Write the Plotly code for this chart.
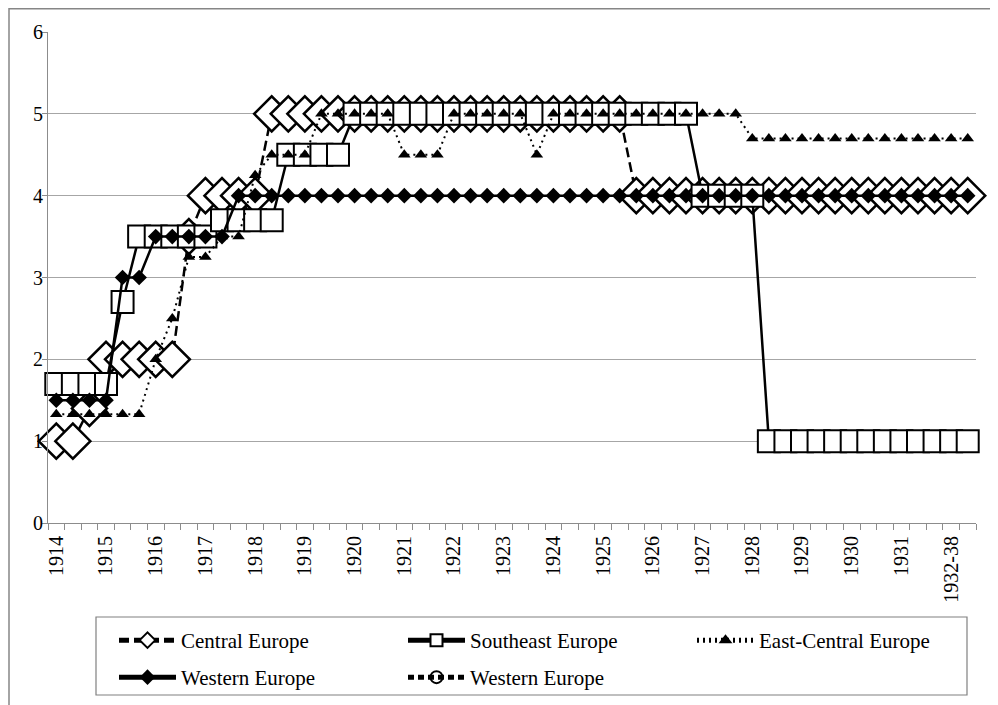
import plotly.graph_objects as go

# ---------------- data ----------------
tick_labels = ["1914", "1915", "1916", "1917", "1918", "1919", "1920", "1921",
               "1922", "1923", "1924", "1925", "1926", "1927", "1928", "1929",
               "1930", "1931", "1932-38"]
n_periods = 56
periods = list(range(n_periods))
label_step = 3

central_europe = ([1, 1, 1.4, 2, 2, 2, 2, 2, 3.5, 4, 4, 4, 4]
                  + [5] * 22 + [4] * 21)
southeast_europe = ([1.7] * 4 + [2.7] + [3.5] * 5 + [3.7] * 4 + [4.5] * 4
                    + [5] * 21 + [4] * 4 + [1] * 13)
east_central_europe = ([1.33] * 6 + [2.0, 2.5, 3.25, 3.25, 3.5, 3.5, 4.25]
                       + [4.5] * 3 + [5] * 5 + [4.5] * 3 + [5] * 5 + [4.5]
                       + [5] * 12 + [4.7] * 14)
western_europe = [1.5] * 4 + [3.0] * 2 + [3.5] * 5 + [4.0] * 45
western_europe_2 = [None] * n_periods

# ---------------- figure ----------------
# The page body has an 8px margin, so the figure is shifted by OFF.
OFF = 8
PAGE_W, PAGE_H = 998, 705
W, H = PAGE_W - OFF, PAGE_H - OFF
# plot area in page (reference) pixels
PL, PR, PT, PB = 48, 976, 32, 523
L, R, T, B = PL - OFF, W - (PR - OFF), PT - OFF, H - (PB - OFF)
pw, ph = W - L - R, H - T - B


def px_x(x):
    """page x (reference pixels) -> paper fraction"""
    return (x - PL) / pw


def px_y(y):
    """page y (reference pixels) -> paper fraction"""
    return (PB - y) / ph


FONT = "'Liberation Serif', 'Times New Roman', Tinos, 'DejaVu Serif', serif"
GRAY = "#8c8c8c"

fig = go.Figure()

fig.add_trace(go.Scatter(
    x=periods, y=central_europe, name="Central Europe", mode="lines+markers",
    line=dict(color="black", width=2.5, dash="10px,5px"),
    marker=dict(symbol="diamond", size=27, color="white",
                line=dict(color="black", width=2.5)),
    cliponaxis=False, legend="legend"))
fig.add_trace(go.Scatter(
    x=periods, y=southeast_europe, name="Southeast Europe", mode="lines+markers",
    line=dict(color="black", width=2.5),
    marker=dict(symbol="square", size=22, color="white",
                line=dict(color="black", width=2)),
    cliponaxis=False, legend="legend"))
fig.add_trace(go.Scatter(
    x=periods, y=east_central_europe, name="East-Central Europe",
    mode="lines+markers",
    line=dict(color="black", width=2, dash="2px,4px"),
    marker=dict(symbol="triangle-up", size=11, color="black"),
    cliponaxis=False, legend="legend"))
fig.add_trace(go.Scatter(
    x=periods, y=western_europe, name="Western Europe", mode="lines+markers",
    line=dict(color="black", width=2.5),
    marker=dict(symbol="diamond", size=12, color="black"),
    cliponaxis=False, legend="legend2"))
fig.add_trace(go.Scatter(
    x=periods, y=western_europe_2, name="Western Europe", mode="lines+markers",
    line=dict(color="black", width=2, dash="6px,4px"),
    marker=dict(symbol="circle-open", size=9, color="black",
                line=dict(color="black", width=1.5)),
    cliponaxis=False, legend="legend2"))

legend_common = dict(
    orientation="h", xanchor="left", yanchor="top",
    bgcolor="rgba(0,0,0,0)", borderwidth=0,
    font=dict(family=FONT, size=21, color="black"),
    itemsizing="constant", itemwidth=57,
    entrywidth=217, entrywidthmode="pixels",
)

fig.update_layout(
    width=W, height=H,
    margin=dict(l=L, r=R, t=T, b=B, pad=0, autoexpand=False),
    paper_bgcolor="white", plot_bgcolor="white",
    font=dict(family=FONT, size=20, color="black"),
    showlegend=True,
    legend=dict(x=px_x(114), y=px_y(620), **legend_common),
    legend2=dict(x=px_x(114), y=px_y(657), **legend_common),
    xaxis=dict(
        range=[-0.5, n_periods - 0.5],
        automargin=False,
        tickmode="array",
        tickvals=[i * label_step for i in range(len(tick_labels))],
        ticktext=tick_labels,
        tickangle=-90,
        ticks="outside", ticklen=4, tickcolor="rgba(0,0,0,0)",
        showline=True, linecolor=GRAY, linewidth=1.2,
        showgrid=False, zeroline=False,
        tickfont=dict(family=FONT, size=20, color="black"),
        minor=dict(tickmode="array",
                   tickvals=[i - 0.5 for i in range(n_periods + 1)],
                   ticks="outside", ticklen=6, tickcolor=GRAY, tickwidth=1,
                   showgrid=False),
    ),
    yaxis=dict(
        range=[0, 6], tickmode="linear", tick0=0, dtick=1,
        automargin=False,
        showgrid=True, gridcolor="#a6a6a6", gridwidth=1,
        showline=True, linecolor=GRAY, linewidth=1.2,
        ticks="outside", ticklen=5, tickcolor=GRAY,
        ticklabelstandoff=-5,
        zeroline=False,
        tickfont=dict(family=FONT, size=20, color="black"),
    ),
    shapes=[
        dict(type="rect", xref="paper", yref="paper",
             x0=px_x(9), x1=px_x(996), y0=px_y(720), y1=px_y(8.8),
             line=dict(color="#868686", width=1.5), fillcolor="rgba(0,0,0,0)",
             layer="below"),
        dict(type="rect", xref="paper", yref="paper",
             x0=px_x(96), x1=px_x(967), y0=px_y(695), y1=px_y(617),
             line=dict(color="#808080", width=1.2), fillcolor="rgba(0,0,0,0)",
             layer="below"),
    ],
)

fig.write_html("out.html")
